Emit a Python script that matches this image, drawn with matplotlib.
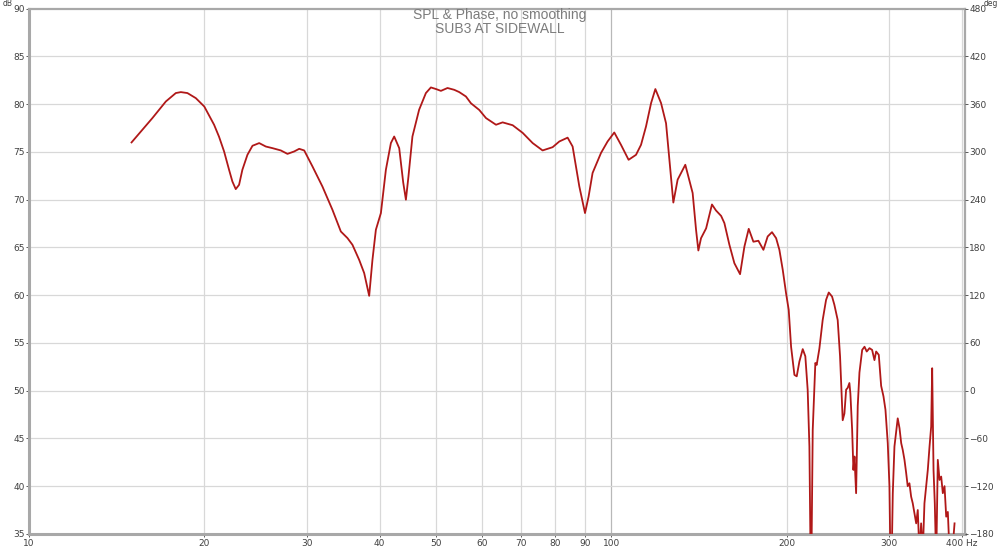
import matplotlib
matplotlib.use("Agg")
import matplotlib.pyplot as plt
from matplotlib.ticker import FixedLocator, NullLocator

# SPL curve (Hz, dB)
freq_hz = [15.0, 15.65, 16.29, 17.18, 17.87, 18.23, 18.71, 19.34, 20.0, 20.79,
           21.20, 21.63, 22.06, 22.35, 22.65, 22.95, 23.25, 23.72, 24.20, 24.85,
           25.51, 26.19, 27.07, 27.79, 28.53, 29.11, 29.69, 30.68, 31.91, 33.20,
           34.32, 35.23, 35.93, 36.90, 37.64, 38.39, 38.89, 39.42, 40.21, 41.01,
           41.83, 42.38, 43.23, 43.92, 44.39, 44.84, 45.55, 46.77, 48.04, 49.00,
           50.0, 50.98, 52.33, 53.74, 54.82, 56.28, 57.41, 59.33, 60.93, 63.39,
           65.07, 67.71, 70.44, 73.28, 76.21, 79.29, 81.43, 84.14, 85.82, 88.12,
           90.13, 91.42, 92.87, 96.02, 98.55, 101.19, 103.91, 107.08, 110.27, 112.48,
           114.72, 117.04, 119.04, 121.75, 124.18, 126.16, 127.81, 130.0, 134.0, 137.95,
           139.82, 141.1, 142.6, 145.5, 148.9, 151.3, 154.4, 156.4, 159.5, 162.7,
           166.4, 169.3, 172.2, 175.4, 178.9, 182.5, 185.6, 188.8, 191.9, 194.4,
           197.0, 199.6, 201.7, 203.6, 206.3, 208.2, 210.4, 213.2, 215.4, 217.4,
           218.9, 220.3, 221.8, 224.1, 225.3, 227.7, 230.7, 233.8, 236.3, 239.4,
           241.6, 244.8, 247.1, 249.7, 251.4, 253.1, 254.7, 256.4, 257.4, 259.2,
           260.5, 261.6, 263.3, 265.0, 266.8, 269.7, 272.2, 274.6, 277.6, 280.5,
           283.1, 285.0, 288.0, 290.7, 293.4, 295.7, 298.4, 300.4, 302.2, 304.4,
           306.4, 310.4, 312.6, 314.7, 316.6, 318.8, 320.9, 322.9, 325.1, 327.3,
           329.4, 331.6, 333.9, 336.0, 338.2, 340.5, 342.7, 345.0, 347.4, 349.6,
           352.0, 354.3, 355.7, 357.6, 359.4, 361.4, 363.7, 366.2, 368.6, 371.0,
           373.5, 376.0, 378.4, 381.0, 385.1, 388.6]
spl_db = [76.0, 77.32, 78.55, 80.29, 81.17, 81.27, 81.17, 80.64, 79.76, 77.85,
          76.6, 75.05, 73.13, 71.91, 71.11, 71.56, 73.13, 74.7, 75.65, 75.93,
          75.57, 75.4, 75.16, 74.8, 75.05, 75.33, 75.16, 73.48, 71.38, 68.94,
          66.67, 65.98, 65.28, 63.7, 62.31, 59.93, 63.7, 66.85, 68.6, 73.13,
          75.93, 76.62, 75.4, 71.8, 70.0, 72.43, 76.62, 79.42, 81.17, 81.76,
          81.59, 81.4, 81.7, 81.51, 81.27, 80.81, 80.1, 79.4, 78.55, 77.85,
          78.1, 77.8, 77.0, 75.93, 75.16, 75.5, 76.1, 76.5, 75.57, 71.4,
          68.6, 70.33, 72.8, 74.9, 76.1, 77.04, 75.75, 74.18, 74.7, 75.75,
          77.67, 80.12, 81.59, 80.12, 78.0, 73.48, 69.7, 72.1, 73.66, 70.7,
          66.85, 64.68, 65.97, 67.0, 69.5, 68.87, 68.3, 67.55, 65.3, 63.35,
          62.2, 65.1, 66.95, 65.6, 65.7, 64.75, 66.15, 66.6, 65.97, 64.75,
          62.65, 60.2, 58.46, 54.6, 51.65, 51.5, 53.05, 54.35, 53.6, 50.1,
          44.15, 28.0, 45.9, 52.9, 52.7, 54.4, 57.4, 59.5, 60.28, 59.86,
          59.0, 57.4, 53.6, 46.9, 47.6, 50.1, 50.3, 50.8, 49.7, 45.9,
          41.7, 43.1, 39.26, 48.4, 51.9, 54.27, 54.6, 54.1, 54.45, 54.27,
          53.2, 54.1, 53.75, 50.5, 49.4, 48.0, 44.5, 40.0, 28.0, 39.26,
          44.15, 47.1, 46.07, 44.5, 43.8, 42.75, 41.4, 40.0, 40.3, 38.9,
          38.2, 37.15, 36.1, 37.5, 33.0, 36.1, 33.0, 38.2, 40.0, 41.7,
          44.15, 46.25, 52.35, 41.7, 38.2, 32.0, 42.75, 40.65, 41.0, 39.26,
          40.0, 36.8, 37.3, 33.0, 33.0, 36.1]

x_ticks = [10, 20, 30, 40, 50, 60, 70, 80, 90, 100, 200, 300, 400]
x_labels = ["10", "20", "30", "40", "50", "60", "70", "80", "90", "100",
            "200", "300", "400 Hz"]
db_ticks = list(range(35, 91, 5))
deg_ticks = list(range(-180, 481, 60))

title_lines = "SPL & Phase, no smoothing\nSUB3 AT SIDEWALL"

grid_col = "#d8d8d8"
spine_col = "#a8a8a8"
text_col = "#404040"

fig = plt.figure(figsize=(10, 5.47), dpi=100)
ax = fig.add_axes([0.029, 0.024, 0.936, 0.96])

ax.set_xscale("log")
ax.set_xlim(10, 405)
ax.set_ylim(35, 90)

ax.plot(freq_hz, spl_db, color="#b01818", lw=1.3, zorder=3)

ax.xaxis.set_major_locator(FixedLocator(x_ticks))
ax.xaxis.set_minor_locator(NullLocator())
ax.set_xticklabels(x_labels)
ax.set_yticks(db_ticks)

for t in x_ticks[1:]:
    col = "#b8b8b8" if t == 100 else grid_col
    ax.axvline(t, color=col, lw=0.9, zorder=1)
for t in db_ticks[1:-1]:
    ax.axhline(t, color=grid_col, lw=0.9, zorder=1)

ax.tick_params(axis="both", labelsize=6.5, colors=text_col, length=2,
               width=0.6, pad=1)
ax.tick_params(axis="x", pad=1.5)

for side in ["left", "bottom"]:
    ax.spines[side].set_color(spine_col)
    ax.spines[side].set_linewidth(2.2)
for side in ["top", "right"]:
    ax.spines[side].set_color(spine_col)
    ax.spines[side].set_linewidth(1.6)

ax2 = ax.twinx()
ax2.set_ylim(-180, 480)
ax2.set_yticks(deg_ticks)
ax2.tick_params(axis="y", labelsize=6.5, colors=text_col, length=2,
                width=0.6, pad=1)
for side in ax2.spines:
    ax2.spines[side].set_visible(False)

# unit labels, nudged sideways so they clear the top tick labels
fig.text(0.0125, 1 - 5.5 / 547, "dB", fontsize=5.5, color=text_col,
         ha="right", va="baseline")
fig.text(0.984, 1 - 5.5 / 547, "deg", fontsize=5.5, color=text_col,
         ha="left", va="baseline")

fig.text(0.5, 0.985, title_lines, fontsize=10, color="#7c7c7c",
         ha="center", va="top", family="Liberation Sans", linespacing=1.0)

fig.savefig("out.png", dpi=100)
